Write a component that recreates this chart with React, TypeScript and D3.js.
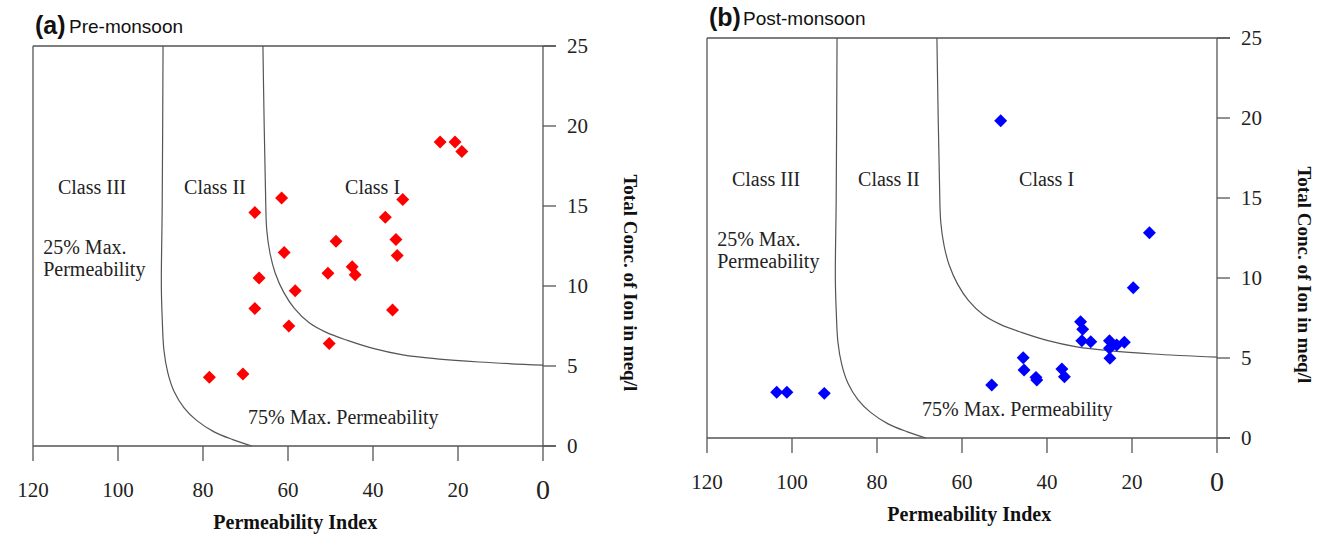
import React from "react";
import * as d3 from "d3";

// ---- Axes ----
const xTicks = [120, 100, 80, 60, 40, 20, 0];
const yTicks = [0, 5, 10, 15, 20, 25];

// ---- Pre-monsoon samples (Permeability Index, Total conc. meq/l) ----
const prePI = [24.2, 20.7, 19.1, 33.0, 37.1, 48.7, 34.6, 34.3, 44.9, 44.2, 50.6, 35.4, 50.3, 61.5, 67.8, 60.9, 66.8, 58.3, 67.8, 59.8, 78.5, 70.6];
const preConc = [19.0, 19.0, 18.4, 15.4, 14.3, 12.8, 12.9, 11.9, 11.2, 10.7, 10.8, 8.5, 6.4, 15.5, 14.6, 12.1, 10.5, 9.7, 8.6, 7.5, 4.3, 4.5];

// ---- Post-monsoon samples ----
const postPI = [50.9, 15.9, 19.7, 103.6, 101.2, 92.4, 32.1, 31.6, 31.8, 29.7, 25.3, 23.6, 21.8, 25.3, 25.2, 45.6, 45.4, 42.6, 42.4, 36.5, 35.9, 53.0];
const postConc = [19.83, 12.83, 9.39, 2.86, 2.86, 2.79, 7.27, 6.79, 6.08, 6.02, 6.08, 5.81, 5.98, 5.61, 4.98, 5.02, 4.25, 3.79, 3.63, 4.31, 3.83, 3.31];

// ---- Doneen class boundaries ----
const b1PI = [89.4, 89.6, 89.8, 89.6, 89.2, 88.3, 86.8, 84.5, 81.5, 77.5, 73, 68.5];
const b1Conc = [25, 15, 10, 8, 6, 4.6, 3.4, 2.4, 1.6, 0.9, 0.4, 0];
const b2PI = [65.9, 65.6, 65.3, 65.0, 64.2, 63.0, 61.0, 58.5, 55.0, 51.0, 46.0, 40.0, 33.0, 25.0, 15.0, 0];
const b2Conc = [25, 20, 16, 13.5, 12, 10.8, 9.6, 8.6, 7.7, 7.1, 6.6, 6.1, 5.7, 5.45, 5.25, 5.05];

const SERIF = "'Liberation Serif', 'Times New Roman', serif";
const SANS = "'Liberation Sans', Arial, sans-serif";
const AX = "#555";

type PanelProps = {
  ox: number;
  oy: number;
  tag: string;
  title: string;
  pi: number[];
  conc: number[];
  color: string;
};

function Panel({ ox, oy, tag, title, pi, conc, color }: PanelProps) {
  const x = d3.scaleLinear().domain([120, 0]).range([33 + ox, 543 + ox]);
  const y = d3.scaleLinear().domain([0, 25]).range([446 + oy, 46 + oy]);
  const x0 = x(120), x1 = x(0), yTop = y(25), yBot = y(0);
  const line = d3
    .line<[number, number]>()
    .x((d) => x(d[0]))
    .y((d) => y(d[1]))
    .curve(d3.curveCatmullRom.alpha(0.5));
  const b1 = b1PI.map((p, i) => [p, b1Conc[i]] as [number, number]);
  const b2 = b2PI.map((p, i) => [p, b2Conc[i]] as [number, number]);
  const diamond = d3.symbol().type(d3.symbolSquare).size(84)() as string;
  const pts = pi.map((p, i) => [p, conc[i]]);
  const lbl = 20;

  return (
    <g>
      <text x={x0 + 2} y={yTop - 12} fontFamily={SANS} fontWeight="bold" fontSize={25} fill="#111">
        {tag}
      </text>
      <text x={x0 + 36} y={yTop - 13} fontFamily={SANS} fontSize={19} fill="#111">
        {title}
      </text>

      {/* frame */}
      <line x1={x0} x2={x1 + 13} y1={yTop} y2={yTop} stroke={AX} strokeWidth={1.3} />
      <line x1={x0} x2={x1 + 13} y1={yBot} y2={yBot} stroke={AX} strokeWidth={1.3} />
      <line x1={x0} x2={x0} y1={yTop} y2={yBot} stroke={AX} strokeWidth={1.3} />
      <line x1={x1} x2={x1} y1={yTop} y2={yBot} stroke={AX} strokeWidth={1.3} />

      {/* x ticks */}
      {xTicks.map((t) => (
        <g key={"x" + t}>
          <line x1={x(t)} x2={x(t)} y1={yBot} y2={yBot + 15} stroke={AX} strokeWidth={1.3} />
          <text
            x={x(t)}
            y={t === 0 ? yBot + 53 : yBot + 51}
            textAnchor="middle"
            fontFamily={SERIF}
            fontSize={t === 0 ? 28 : 21}
            fill="#222"
          >
            {t}
          </text>
        </g>
      ))}

      {/* y ticks */}
      {yTicks.map((t) => (
        <g key={"y" + t}>
          <line x1={x1} x2={x1 + 13} y1={y(t)} y2={y(t)} stroke={AX} strokeWidth={1.3} />
          <text x={x1 + 24} y={y(t) + 7} fontFamily={SERIF} fontSize={21} fill="#222">
            {t}
          </text>
        </g>
      ))}

      {/* boundaries */}
      <path d={line(b1) || ""} fill="none" stroke="#555" strokeWidth={1.2} />
      <path d={line(b2) || ""} fill="none" stroke="#555" strokeWidth={1.2} />

      {/* region labels */}
      <text x={x(106.1)} y={y(15.75)} textAnchor="middle" fontFamily={SERIF} fontSize={lbl} fill="#222">
        Class III
      </text>
      <text x={x(77.2)} y={y(15.75)} textAnchor="middle" fontFamily={SERIF} fontSize={lbl} fill="#222">
        Class II
      </text>
      <text x={x(40.1)} y={y(15.75)} textAnchor="middle" fontFamily={SERIF} fontSize={lbl} fill="#222">
        Class I
      </text>
      <text x={x(117.6)} y={y(12.0)} fontFamily={SERIF} fontSize={lbl} fill="#222">
        25% Max.
      </text>
      <text x={x(117.6)} y={y(10.6)} fontFamily={SERIF} fontSize={lbl} fill="#222">
        Permeability
      </text>
      <text x={x(69.4)} y={y(1.4)} fontFamily={SERIF} fontSize={lbl} fill="#222">
        75% Max. Permeability
      </text>

      {/* samples */}
      {pts.map((d, i) => (
        <path
          key={"p" + i}
          d={diamond}
          transform={`translate(${x(d[0])},${y(d[1])}) rotate(45)`}
          fill={color}
        />
      ))}

      {/* axis titles */}
      <text
        x={x(58.3)}
        y={yBot + 83}
        textAnchor="middle"
        fontFamily={SERIF}
        fontWeight="bold"
        fontSize={20}
        fill="#111"
      >
        Permeability Index
      </text>
      <text
        transform={`translate(${x1 + 81},${y(10.2)}) rotate(90)`}
        textAnchor="middle"
        fontFamily={SERIF}
        fontWeight="bold"
        fontSize={19}
        fill="#111"
      >
        Total Conc. of Ion in meq/l
      </text>
    </g>
  );
}

export default function App() {
  return (
    <svg
      width={1318}
      height={536}
      style={{ position: "absolute", left: 0, top: 0, background: "#fff" }}
    >
      <rect width={1318} height={536} fill="#fff" />
      <Panel ox={0} oy={0} tag="(a)" title="Pre-monsoon" pi={prePI} conc={preConc} color="#ff0000" />
      <Panel ox={674} oy={-8} tag="(b)" title="Post-monsoon" pi={postPI} conc={postConc} color="#0000ff" />
    </svg>
  );
}
